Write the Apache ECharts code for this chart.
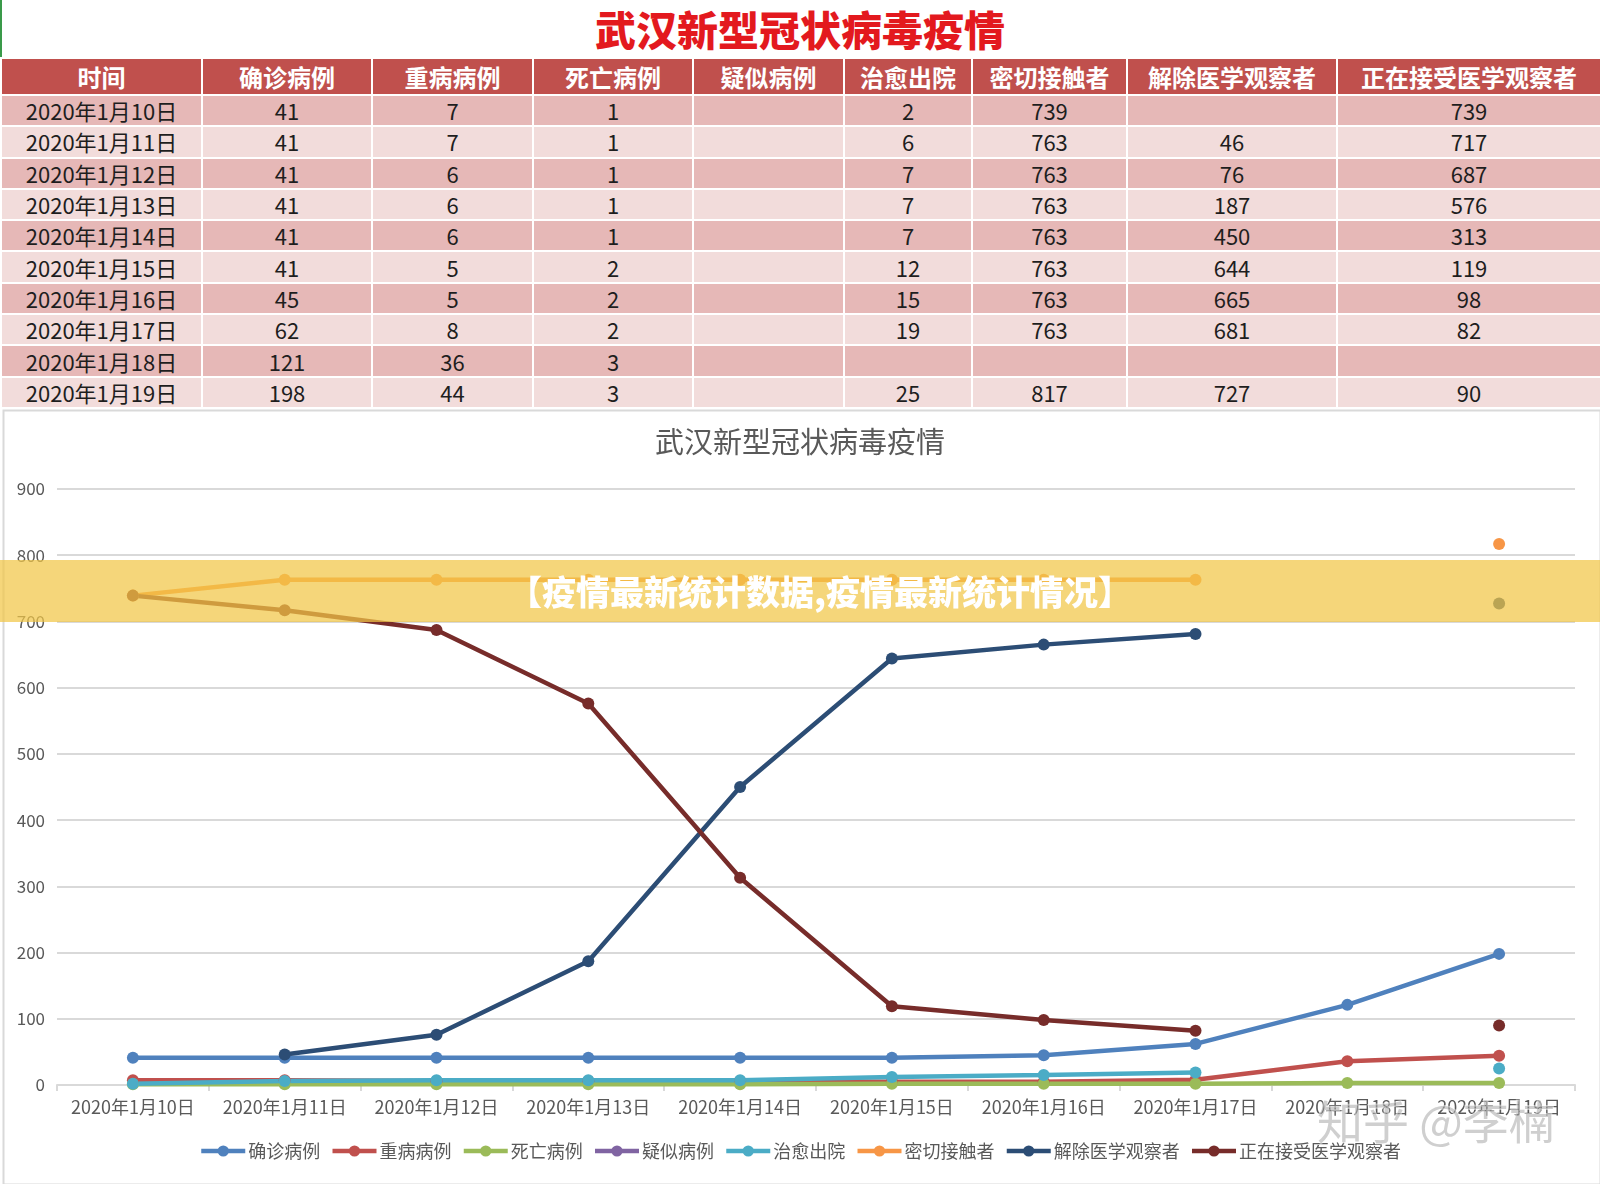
<!DOCTYPE html>
<html>
<head>
<meta charset="utf-8">
<title>武汉新型冠状病毒疫情</title>
<script src="https://cdn.jsdelivr.net/npm/echarts@6/dist/echarts.min.js"></script>
<style>
    html, body { margin: 0; padding: 0; background: #fff; }
    body { width: 1600px; height: 1184px; position: relative; overflow: hidden;
        font-family: "Noto Sans CJK SC", sans-serif; }
    #head { position: absolute; left: 0; top: 0; width: 1600px; height: 57px; text-align: center;
        color: #e3191e; font-size: 41px; font-weight: 900; line-height: 56px; }
    #edge { position: absolute; left: 0; top: 0; width: 2px; height: 57px; background: #3a9a4a; }
    #tbl { position: absolute; left: 0; top: 57px; border-collapse: collapse; table-layout: fixed; width: 1600px; }
    #tbl td, #tbl th { border: 2px solid #fff; text-align: center; padding: 0; overflow: hidden; white-space: nowrap; }
    #tbl th { background: #c0504d; color: #fff; font-size: 24px; font-weight: bold; height: 35px; line-height: 33px; }
    #tbl td { font-size: 22px; color: #1e1e1e; height: 29.3px; line-height: 27px; }
    #tbl tr.odd td { background: #e6b8b7; }
    #tbl tr.even td { background: #f2dcdb; }
    #chart { position: absolute; left: 0; top: 408px; width: 1600px; height: 776px; }
</style>
</head>
<body>
<div id="head">武汉新型冠状病毒疫情</div>
<div id="edge"></div>
<table id="tbl"></table>
<div id="chart"></div>
<script>
var title = '武汉新型冠状病毒疫情';
var banner = '【疫情最新统计数据,疫情最新统计情况】';
var mark = '知乎 @李楠';

var dates = ['2020年1月10日', '2020年1月11日', '2020年1月12日', '2020年1月13日', '2020年1月14日',
    '2020年1月15日', '2020年1月16日', '2020年1月17日', '2020年1月18日', '2020年1月19日'];
var seriesNames = ['确诊病例', '重病病例', '死亡病例', '疑似病例', '治愈出院', '密切接触者', '解除医学观察者', '正在接受医学观察者'];

var confirmed = [41, 41, 41, 41, 41, 41, 45, 62, 121, 198];
var severe = [7, 7, 6, 6, 6, 5, 5, 8, 36, 44];
var deaths = [1, 1, 1, 1, 1, 2, 2, 2, 3, 3];
var suspected = [null, null, null, null, null, null, null, null, null, null];
var cured = [2, 6, 7, 7, 7, 12, 15, 19, null, 25];
var contacts = [739, 763, 763, 763, 763, 763, 763, 763, null, 817];
var released = [null, 46, 76, 187, 450, 644, 665, 681, null, 727];
var observing = [739, 717, 687, 576, 313, 119, 98, 82, null, 90];

var yTicks = [0, 100, 200, 300, 400, 500, 600, 700, 800, 900];

var colWidths = [201, 170, 161, 160, 151, 128, 155, 210, 264];
var colors = ['#4f81bd', '#c0504d', '#9bbb59', '#8064a2', '#4bacc6', '#f79646', '#2c4d75', '#772c2a'];
var font = '"Noto Sans CJK SC", sans-serif';

var columns = [confirmed, severe, deaths, suspected, cured, contacts, released, observing];

// 表格
var buildTable = function () {
    var tbl = document.getElementById('tbl');
    var html = '<colgroup>';
    colWidths.forEach(function (w) { html += '<col style="width:' + w + 'px">'; });
    html += '</colgroup><tr><th>时间</th>';
    seriesNames.forEach(function (n) { html += '<th>' + n + '</th>'; });
    html += '</tr>';
    dates.forEach(function (d, i) {
        html += '<tr class="' + (i % 2 === 0 ? 'odd' : 'even') + '"><td>' + d + '</td>';
        columns.forEach(function (col) {
            html += '<td>' + (col[i] === null ? '' : col[i]) + '</td>';
        });
        html += '</tr>';
    });
    tbl.innerHTML = html;
};

// 折线图
var buildChart = function () {
    var chart = echarts.init(document.getElementById('chart'));
    var series = [];
    seriesNames.forEach(function (name, i) {
        series.push({
            name: name,
            type: 'line',
            data: columns[i],
            symbol: 'circle',
            symbolSize: 12,
            connectNulls: false,
            lineStyle: { width: 4.5, color: colors[i] },
            itemStyle: { color: colors[i] },
            emphasis: { disabled: true }
        });
    });

    chart.setOption({
        animation: false,
        color: colors,
        title: {
            text: title, left: 'center', top: 14,
            textStyle: { fontFamily: font, fontSize: 29, fontWeight: 'normal', color: '#595959' }
        },
        legend: {
            data: seriesNames, left: 'center', top: 729,
            itemWidth: 44, itemHeight: 14, itemGap: 10,
            lineStyle: { width: 4.5 },
            textStyle: { fontFamily: font, fontSize: 18, color: '#595959', padding: [0, 0, 0, -2] }
        },
        grid: { left: 57, right: 25, top: 81, bottom: 99, containLabel: false },
        xAxis: {
            type: 'category', data: dates, boundaryGap: true,
            axisLine: { lineStyle: { color: '#d9d9d9', width: 2 } },
            axisTick: { show: true, length: 6, lineStyle: { color: '#d9d9d9', width: 2 } },
            axisLabel: { fontFamily: font, fontSize: 18, color: '#595959', margin: 13, interval: 0 }
        },
        yAxis: {
            type: 'value', min: yTicks[0], max: yTicks[yTicks.length - 1], interval: 100,
            axisLine: { show: false }, axisTick: { show: false },
            axisLabel: { fontFamily: font, fontSize: 17, color: '#595959', margin: 12 },
            splitLine: { lineStyle: { color: '#d9d9d9', width: 2 } }
        },
        graphic: [
            { type: 'rect', left: 1, top: 0, z: 0, silent: true,
                shape: { width: 1597, height: 774 },
                style: { fill: 'none', stroke: '#d9d9d9', lineWidth: 2 } },
            { type: 'rect', left: 0, top: 152, z: 100, silent: true,
                shape: { width: 1600, height: 62 },
                style: { fill: 'rgba(241,198,70,0.72)' } },
            { type: 'text', left: 508, top: 167, z: 101, silent: true,
                style: { text: banner, fill: '#fff', font: '900 34px ' + font } },
            { type: 'text', left: 1316, top: 690, z: 101, silent: true,
                style: { text: mark, fill: 'rgba(160,160,160,0.5)', stroke: 'rgba(255,255,255,0.5)', lineWidth: 2,
                    font: '46px ' + font } }
        ],
        series: series
    });
};

buildTable();
buildChart();
</script>
</body>
</html>
